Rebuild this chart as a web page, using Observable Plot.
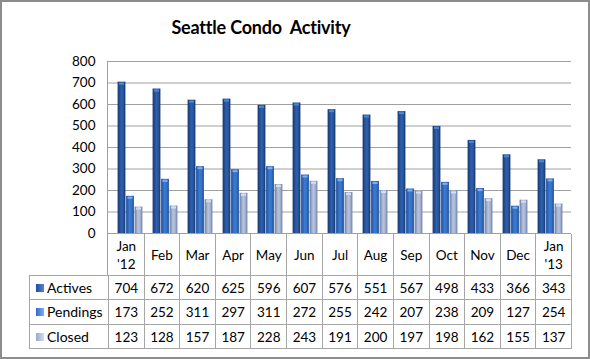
<!DOCTYPE html>
<html>
<head>
<meta charset="utf-8">
<script src="https://cdn.jsdelivr.net/npm/d3@7"></script>
<script src="https://cdn.jsdelivr.net/npm/@observablehq/plot@0.6"></script>
<style>
  html, body { margin: 0; padding: 0; background: #fff; }
  #wrap { position: relative; width: 590px; height: 359px; overflow: hidden; font-family: Lato, "Open Sans", sans-serif; color: #000; }
  #border { position: absolute; left: 0; top: 0; width: 590px; height: 359px; box-sizing: border-box; border: 2px solid #8c8c8c; pointer-events: none; }
  #title { position: absolute; left: 141px; width: 240px; top: 16px; text-align: center; font-weight: bold; font-size: 18px; white-space: pre; letter-spacing: -0.2px; }
  #chart { position: absolute; left: 0; top: 45px; }
  #vline { position: absolute; left: 107px; top: 61px; width: 1px; height: 215px; background: #a0a0a0; }
  #table { position: absolute; left: 29px; top: 234px; width: 543px; display: grid; grid-template-columns: 80px repeat(13, 1fr); grid-template-rows: 42px 24px 25px 24px; font-size: 13.5px; }
  #table div { box-sizing: border-box; display: flex; align-items: center; justify-content: center; text-align: center; line-height: 18px; }
  #table .h { border-right: 1px solid #a6a6a6; border-bottom: 1px solid #a6a6a6; }
  #table .c { border-right: 1px solid #a6a6a6; border-bottom: 1px solid #a6a6a6; }
  #table .l { border-left: 1px solid #a6a6a6; border-right: 1px solid #a6a6a6; border-bottom: 1px solid #a6a6a6; justify-content: flex-start; padding-left: 6px; font-size: 14px; }
  .key { display: inline-block; width: 8px; height: 8px; margin-right: 3px; }
</style>
</head>
<body>
<div id="wrap">
  <div id="title">Seattle Condo  Activity</div>
  <div id="chart"></div>
  <div id="vline"></div>
  <div id="table"></div>
  <div id="border"></div>
</div>
<script>
const months = ["Jan\n'12", "Feb", "Mar", "Apr", "May", "Jun", "Jul", "Aug", "Sep", "Oct", "Nov", "Dec", "Jan\n'13"];
const seriesNames = ["Actives", "Pendings", "Closed"];
const actives  = [704, 672, 620, 625, 596, 607, 576, 551, 567, 498, 433, 366, 343];
const pendings = [173, 252, 311, 297, 311, 272, 255, 242, 207, 238, 209, 127, 254];
const closed   = [123, 128, 157, 187, 228, 243, 191, 200, 197, 198, 162, 155, 137];
const yTicks = [0, 100, 200, 300, 400, 500, 600, 700, 800];

const seriesValues = [actives, pendings, closed];
const gradIds = ["gA", "gP", "gC"];
const capColors = ["#4f86d6", "#7fb0ee", "#d5def0"];
const keyColors = ["#234e98", "#2f6cc2", "#97a8cc"];
const offsets = [-8, 0.5, 9];

const tables = seriesValues.map(vals => months.map((m, i) => ({month: m, value: vals[i]})));

const marks = [
  Plot.ruleY(yTicks, {stroke: "#a0a0a0", strokeWidth: 1})
];
tables.forEach((t, k) => {
  marks.push(Plot.barY(t, {x: "month", y: "value", fill: `url(#${gradIds[k]})`, insetLeft: 13.6, insetRight: 13.6, dx: offsets[k]}));
  marks.push(Plot.tickY(t, {x: "month", y: "value", stroke: capColors[k], strokeWidth: 2, insetLeft: 15, insetRight: 15, dx: offsets[k], dy: 1.5}));
});
if (Plot.axisY) {
  marks.push(Plot.axisY(yTicks, {tickSize: 0, tickPadding: 13, fontSize: 13.5, label: null, fill: "#000"}));
}

const chart = Plot.plot({
  width: 590,
  height: 189,
  marginTop: 16,
  marginBottom: 1,
  marginLeft: 108,
  marginRight: 19,
  style: {fontFamily: "Lato, 'Open Sans', sans-serif", fontSize: "13.5px", color: "#000", background: "transparent", overflow: "visible"},
  x: {domain: months, padding: 0, axis: null},
  y: {domain: [0, 800], axis: Plot.axisY ? null : "left", ticks: yTicks, tickSize: 0, tickPadding: 13, label: null},
  marks
});

// gradients for cylinder look
const ns = "http://www.w3.org/2000/svg";
const defs = document.createElementNS(ns, "defs");
const gradStops = {
  gA: [[0, "#17366e"], [0.45, "#2d5fad"], [0.7, "#2a58a3"], [1, "#163366"]],
  gP: [[0, "#1f4f9c"], [0.45, "#3b7bd2"], [0.7, "#3671c4"], [1, "#1f4e98"]],
  gC: [[0, "#6c7fa8"], [0.45, "#b9c5dd"], [0.7, "#a9b6d2"], [1, "#6e80a8"]]
};
for (const [id, stops] of Object.entries(gradStops)) {
  const g = document.createElementNS(ns, "linearGradient");
  g.setAttribute("id", id);
  g.setAttribute("x1", "0"); g.setAttribute("x2", "1"); g.setAttribute("y1", "0"); g.setAttribute("y2", "0");
  for (const [o, c] of stops) {
    const s = document.createElementNS(ns, "stop");
    s.setAttribute("offset", o); s.setAttribute("stop-color", c);
    g.appendChild(s);
  }
  defs.appendChild(g);
}
chart.insertBefore(defs, chart.firstChild);
document.getElementById("chart").appendChild(chart);

// data table
const table = document.getElementById("table");
const h0 = document.createElement("div"); h0.style.borderBottom = "1px solid #a6a6a6";
table.appendChild(h0);
months.forEach(m => {
  const d = document.createElement("div"); d.className = "h";
  d.innerHTML = m.replace("\n", "<br>");
  table.appendChild(d);
});
seriesNames.forEach((name, k) => {
  const l = document.createElement("div"); l.className = "l";
  l.innerHTML = `<span class="key" style="background:linear-gradient(90deg, ${keyColors[k]}, ${capColors[k]})"></span>${name}`;
  table.appendChild(l);
  seriesValues[k].forEach(v => {
    const c = document.createElement("div"); c.className = "c"; c.textContent = v;
    table.appendChild(c);
  });
});
</script>
</body>
</html>
